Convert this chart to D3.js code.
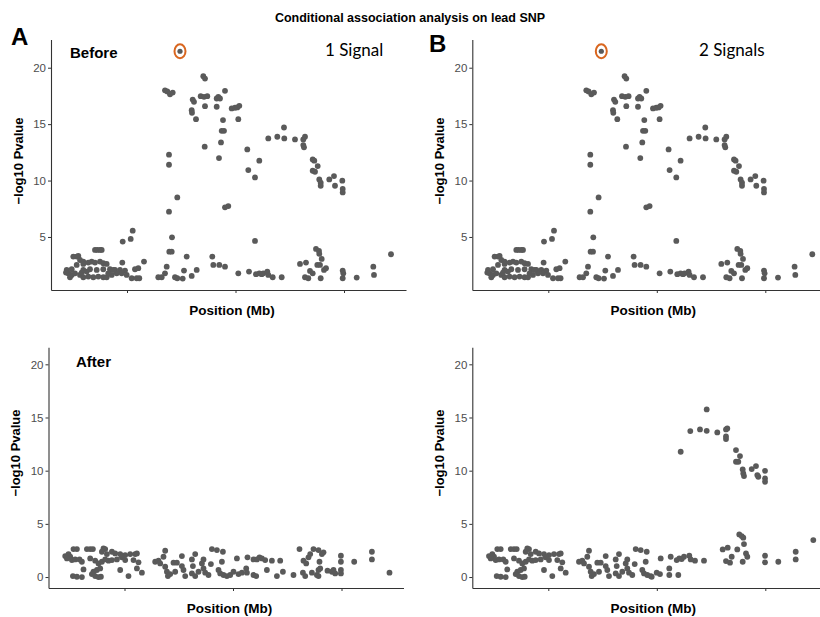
<!DOCTYPE html>
<html>
<head>
<meta charset="utf-8">
<script src="https://cdn.jsdelivr.net/npm/d3@7"></script>
<style>
body { margin: 0; background: #fff; }
text { font-family: "Liberation Sans", Arial, sans-serif; }
</style>
</head>
<body>
<svg width="820" height="617"></svg>
<script>
// SNP position (kb from start of window), -log10 p
var beforeSnps = [
  [22.3,3.26],[25.7,3.26],[27.3,3.32],[44,3.85],[46.3,3.85],[49,3.85],[50.7,3.85],
  [29,2.96],[32.3,2.82],[25.7,2.52],[32.3,2.61],[37.3,2.73],[40.7,2.82],[44,2.73],
  [49,2.82],[52.3,2.67],[55.7,2.61],[15.7,2.08],[20.7,2.14],[32.3,2.08],[39,2.14],
  [45.7,2.08],[52.3,2.14],[59,2.14],[64,2.08],[69,2.08],[74,2.02],[84,2.14],[87.3,2.23],
  [17.3,1.78],[20.7,1.64],[24,1.78],[29,1.64],[32.3,1.43],[37.3,1.49],[42.3,1.43],
  [47.3,1.49],[52.3,1.43],[55.7,1.43],[60.7,1.64],[65.7,1.78],[70.7,1.78],[75.7,1.64],
  [80.7,1.34],[85.7,1.34],[88.3,1.34],[71.7,4.59],[79.7,4.83],[81.7,5.56],[71.3,2.73],
  [93,2.82],[15,1.84],[19,1.43],[30.7,1.84],[35.7,1.93],[57.3,1.78],[62.3,2.08],
  [107.3,1.43],[110.7,1.43],[114,1.78],[115.7,2.37],[118.3,3.7],[120.7,3.7],[121,4.97],
  [118,7.24],[126.3,8.5],[118,11.4],[118,12.29],[114,18.0],[116.3,17.9],[119,17.65],
  [121.7,17.8],[124,1.43],[126.3,1.34],[131.7,1.31],[133,2.02],[135.7,3.26],[140.7,1.55],
  [145.7,2.08],[141.7,17.18],[143,16.98],[140.7,16.24],[141,16.0],[145,15.44],
  [149.7,17.48],[152.3,19.25],[154,19.04],[153,17.42],[154,16.59],[156.3,17.48],
  [153.7,13.0],[161.3,3.26],[162.3,2.52],[168.3,2.52],[165.7,17.27],[167.3,17.42],
  [169,17.27],[174,17.95],[165.7,16.54],[172,15.36],[170.7,14.41],[173,14.41],
  [170,13.38],[168,11.99],[174,7.63],[177.3,7.74],
  [180.7,16.39],[184,16.45],[186.3,16.48],[188.3,16.62],[187.3,15.44],[196.3,12.76],
  [197.3,10.93],[204,10.28],[208.3,11.76],[217.3,13.73],[226.3,13.88],[233,14.7],
  [233.3,13.73],[244,13.64],[252.3,13.64],[254,13.88],[252.3,13.14],[253,12.94],
  [261.7,11.87],[263.3,11.76],[261.7,10.87],[264,10.78],[266.7,11.28],[268.3,10.1],
  [269.7,9.81],[269.7,9.54],[278.3,10.1],[283,10.4],[284,9.54],[291.3,9.99],
  [291.7,9.25],[291.7,8.95],[204,4.65],
  [174,2.37],[187.3,1.78],[198,1.93],[205,1.7],[208.3,1.78],[210.7,1.7],[212.3,1.78],
  [216.3,1.93],[217.3,1.64],[221.7,1.43],[230.7,1.43],[249,2.61],[255,2.73],[254,1.43],
  [257.3,1.34],[259,1.99],[261.7,1.78],[265,3.94],[268,3.76],[268.3,3.5],[266.3,2.52],
  [269,2.52],[270.7,3.05],[273,2.08],[275,2.23],[269.7,1.34],[291.7,2.02],[292.3,1.78],
  [291.7,1.34],[305.7,1.4],[322.3,2.37],[323,1.64],[340,3.47]
];

var leadSnp = [129, 21.46];

// after conditioning on the lead SNP, single signal model
var afterLeadSnps = [
  [25,2.63],[28.4,2.63],[38.4,2.63],[41.7,2.63],[44.4,2.63],[55,2.69],[56.7,2.63],
  [16.7,1.97],[20,2.16],[21.7,1.91],[53.4,2.38],[58.4,2.16],[63.4,2.38],[66.7,2.22],
  [71.7,2.16],[76.7,2.07],[81.7,2.16],[86.7,2.16],[88.4,2.22],[18.4,1.75],[23.4,1.6],
  [26.7,1.66],[31,1.66],[33.4,1.44],[41.7,1.75],[46.7,1.54],[50,1.28],[53.4,1.44],
  [56.7,1.66],[60,1.54],[63.4,1.6],[68.4,1.66],[73.4,1.85],[76.7,1.6],[85,1.6],[90,1.38],
  [35,0.72],[45,0.5],[48.4,0.66],[51.7,0.81],[71.7,0.66],[88.4,0.81],[93.4,0.41],
  [24.4,0.09],[28.4,0.03],[33.4,0.0],[43.4,0.28],[46.7,0.09],[50,0.0],[52.4,0.03],[80,0.09],
  [106.7,1.44],[110,1.54],[116.7,2.47],[115,1.91],[111.7,1.28],[116.7,0.97],[118.4,0.5],
  [119.4,0.09],[121.7,0.28],[125,1.35],[128.4,1.35],[126.7,0.5],[133.4,1.97],[133.4,1.03],
  [135,0.66],[136.7,0.09],[143.4,1.66],[144.4,1.03],[146.7,2.16],[143.4,0.34],[146.7,0.09],
  [150,0.5],[153.4,1.28],[155,1.66],[155,0.81],[156.7,0.41],[160,0.19],[163.4,2.63],
  [168.4,2.54],[174.4,2.38],[173.4,1.44],[170,0.66],[171.7,0.34],[175,0.19],[178.4,0.09],
  [162.4,1.22],
  [181.7,0.19],[185,0.5],[188.4,1.75],[190,0.28],[193.4,0.41],[197.7,0.81],[198.4,0.41],
  [199,1.85],[205,1.66],[205,0.19],[207.7,0.09],[208.4,1.66],[211,1.85],[213.4,1.75],
  [216.7,1.6],[218.4,0.66],[223.4,1.54],[228.4,0.09],[231.7,1.54],[234.4,0.5],[245,0.19],
  [251,2.63],[255,1.54],[257.7,1.28],[254.4,0.41],[256.7,0.09],[260,1.85],[261.7,2.16],
  [263.4,0.41],[265,2.63],[268.4,0.19],[270,2.54],[270,0.66],[271,1.44],[271.7,0.81],
  [273.4,2.16],[275,2.32],[270,0.09],[279,0.6],[283.4,0.5],[285,0.66],[286.7,0.34],
  [292.4,2.0],[292.4,1.44],[292.4,0.66],[292.4,0.34],[305.7,1.44],[323.4,2.38],
  [323.4,1.66],[341,0.41]
];

// two signal model: SNPs past the first signal keep the second peak
var secondSignalSnps = [
  [179.4,0.03],[184.4,0.41],[187.7,0.28],[188.4,1.75],[197,0.81],[197,0.19],[198.4,1.91],
  [204.4,1.6],[206,0.19],[207,1.75],[208.4,11.78],[209.4,1.69],[211.7,1.91],[217,2.0],
  [218.4,1.66],[222.7,1.54],[231.7,1.54],[218,13.72],[227.7,13.88],[234.4,13.75],
  [234.4,15.76],[245,13.6],[253.7,13.88],[255,13.97],[253.7,13.22],[253.7,12.97],
  [263.7,11.94],[267.7,11.37],[263.7,10.84],[266,10.84],[270.4,10.12],[271,9.74],
  [271.7,9.49],[279.4,10.15],[283.7,10.43],[285,9.59],[286,9.43],[292.7,9.99],
  [292.7,9.27],[292.7,8.96],[250.4,2.6],[255.4,2.76],[253.7,1.5],[257.7,1.35],
  [259.4,1.91],[265,2.6],[267,4.01],[269.4,3.85],[271,3.7],[271.7,3.1],[273.7,2.22],
  [275,1.91],[270.4,1.44],[292.7,2.0],[292.7,1.38],[306,1.44],[323.4,2.38],[323.4,1.66],
  [341,3.48]
];

var xTicks = [76, 184.5, 293];
var yTicksTop = [5, 10, 15, 20];
var yTicksBottom = [0, 5, 10, 15, 20];

var twoSignalAfter = afterLeadSnps.filter(function(d){ return d[0] < 179; }).concat(secondSignalSnps);

var svg = d3.select("svg");

var panels = [
  {left:51, top:39.5, bottom:290, ydom:[0.3,22.5], yticks:yTicksTop, snps:beforeSnps, lead:true, ylabY:161},
  {left:472.3, top:39.5, bottom:290, ydom:[0.3,22.5], yticks:yTicksTop, snps:beforeSnps, lead:true, ylabY:161},
  {left:48.5, top:347.3, bottom:588, ydom:[-1.03,21.6], yticks:yTicksBottom, snps:afterLeadSnps, lead:false, ylabY:453},
  {left:472.3, top:347.3, bottom:588, ydom:[-1.03,21.6], yticks:yTicksBottom, snps:twoSignalAfter, lead:false, ylabY:453}
];

var drawPanel = function(p)
{
    var xScale = d3.scaleLinear().domain([0, 355]).range([p.left, p.left + 355]);
    var yScale = d3.scaleLinear().domain(p.ydom).range([p.bottom, p.top]);

    var g = svg.append("g");

    var yAxis = g.append("g")
        .attr("transform", "translate(" + p.left + ",0)")
        .call(d3.axisLeft(yScale).tickValues(p.yticks).tickSize(3).tickSizeOuter(0).tickPadding(2));
    var xAxis = g.append("g")
        .attr("transform", "translate(0," + p.bottom + ")")
        .call(d3.axisBottom(xScale).tickValues(xTicks).tickFormat("").tickSize(3).tickSizeOuter(0));

    g.selectAll(".domain").attr("stroke", "#333").attr("stroke-width", 1.1);
    g.selectAll(".tick line").attr("stroke", "#333");
    yAxis.selectAll("text").attr("fill", "#4d4d4d").style("font-size", "11.5px");

    g.selectAll("circle.snp").data(p.snps).enter().append("circle")
        .attr("class", "snp")
        .attr("cx", function(d){ return xScale(d[0]); })
        .attr("cy", function(d){ return yScale(d[1]); })
        .attr("r", 2.9)
        .attr("fill", "#5a5a5a");

    if (p.lead)
    {
        g.append("circle")
            .attr("cx", xScale(leadSnp[0])).attr("cy", yScale(leadSnp[1]))
            .attr("r", 2.6).attr("fill", "#5a5a5a");
        g.append("ellipse")
            .attr("cx", xScale(leadSnp[0])).attr("cy", yScale(leadSnp[1]))
            .attr("rx", 5.5).attr("ry", 7)
            .attr("fill", "none").attr("stroke", "#d9661f").attr("stroke-width", 2);
    }

    g.append("text")
        .attr("transform", "translate(" + (p.left - 28.5) + "," + p.ylabY + ") rotate(-90)")
        .attr("text-anchor", "middle")
        .style("font-size", "13px").style("font-weight", "bold")
        .text("\u2212log10 Pvalue");

    g.append("text")
        .attr("x", p.left + 181).attr("y", p.bottom + 25)
        .attr("text-anchor", "middle")
        .style("font-size", "13.5px").style("font-weight", "bold")
        .text("Position (Mb)");
}

panels.forEach(drawPanel);

svg.append("text").attr("x", 410).attr("y", 22).attr("text-anchor", "middle")
    .style("font-size", "12.5px").style("font-weight", "bold")
    .text("Conditional association analysis on lead SNP");

svg.append("text").attr("x", 11).attr("y", 45).style("font-size", "24px").style("font-weight", "bold").text("A");
svg.append("text").attr("x", 429).attr("y", 52).style("font-size", "24px").style("font-weight", "bold").text("B");
svg.append("text").attr("x", 70).attr("y", 58).style("font-size", "15px").style("font-weight", "bold").text("Before");
svg.append("text").attr("x", 76).attr("y", 367).style("font-size", "15px").style("font-weight", "bold").text("After");
svg.append("text").attr("x", 325).attr("y", 56).style("font-size", "17px").style("font-family", "Lato, 'Open Sans', sans-serif").text("1 Signal");
svg.append("text").attr("x", 699).attr("y", 56).style("font-size", "17px").style("font-family", "Lato, 'Open Sans', sans-serif").text("2 Signals");
</script>
</body>
</html>
